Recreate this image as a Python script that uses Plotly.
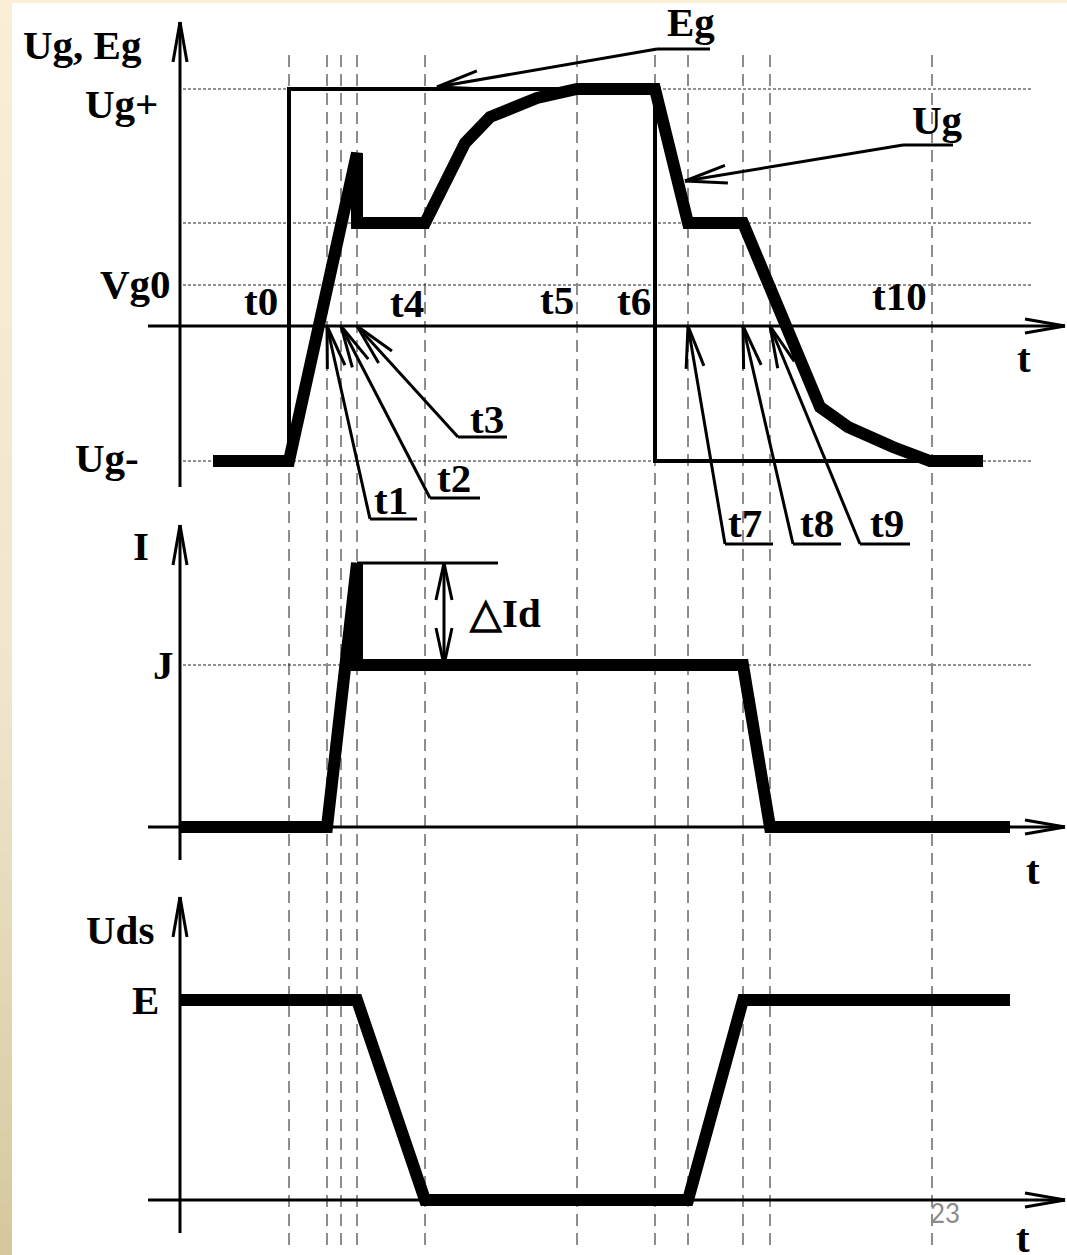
import math
import plotly.graph_objects as go

W, H = 1067, 1255

# ---------------- data (arbitrary units) ----------------
T_NAMES = ["t0", "t1", "t2", "t3", "t4", "t5", "t6", "t7", "t8", "t9", "t10"]
T_VALS = [109, 147, 161, 177, 245, 397, 475, 508, 563, 590, 752]
T = dict(zip(T_NAMES, T_VALS))

UG_PLUS = 23.7
UG_PLATEAU = 10.3
VG0 = 4.1
UG_MINUS = -13.5
J_LEVEL = 16.2
I_PEAK = 26.4
E_LEVEL = 20.0

# gate voltage Ug
ug_t = [33, 109, 177, 177, 245, 285, 310, 357, 397, 475, 508, 563, 640, 668, 713, 750, 803]
ug_v = [-13.5, -13.5, 17.3, 10.3, 10.3, 18.3, 20.9, 22.8, 23.7, 23.7, 10.3, 10.3,
        -8.1, -10.1, -12.1, -13.5, -13.5]
# driver emf Eg
eg_t = [33, 109, 109, 475, 475, 803]
eg_v = [-13.5, -13.5, 23.7, 23.7, -13.5, -13.5]
# drain current I
i_t = [0, 147, 177, 177, 563, 590, 830]
i_v = [0, 0, 26.4, 16.2, 16.2, 0, 0]
# drain-source voltage Uds
u_t = [0, 177, 245, 508, 563, 830]
u_v = [20, 20, 0, 0, 20, 20]

# ---------------- layout helpers ----------------
X0 = 180          # pixel column of t = 0
PPU = 10          # pixels per y unit
ZERO = {"y": 326, "y2": 827, "y3": 1200}   # pixel row of zero level per panel
X_END = 885
X_START = -32
FS = 41

shapes = []
annotations = []


def to_px(x, y, yr):
    return X0 + x, ZERO[yr] - y * PPU


def to_dat(px, py, yr):
    return px - X0, (ZERO[yr] - py) / PPU


def seg(x0, y0, x1, y1, yr, w=3, color="black", dash=None, layer="above"):
    ln = dict(color=color, width=w)
    if dash:
        ln["dash"] = dash
    shapes.append(dict(type="line", xref="x", yref=yr, x0=x0, y0=y0, x1=x1, y1=y1,
                       line=ln, layer=layer))


def barbs(tip, tail, yr, L=40, half=7, w=3):
    tx, ty = to_px(tip[0], tip[1], yr)
    sx, sy = to_px(tail[0], tail[1], yr)
    dx, dy = sx - tx, sy - ty
    n = math.hypot(dx, dy)
    ux, uy = dx / n, dy / n
    a = math.atan2(half, L)
    lr = math.hypot(L, half)
    for s in (1, -1):
        c, si = math.cos(s * a), math.sin(s * a)
        rx = ux * c - uy * si
        ry = ux * si + uy * c
        bx, by = tx + lr * rx, ty + lr * ry
        ex, ey = to_dat(bx, by, yr)
        seg(tip[0], tip[1], ex, ey, yr, w)


def arrow(tip, tail, yr, w=3, L=40, half=7):
    seg(tail[0], tail[1], tip[0], tip[1], yr, w)
    barbs(tip, tail, yr, L, half, w)


def ann(text, px, py, size=FS, color="black", family="Liberation Serif", weight="bold"):
    annotations.append(dict(text=text, x=px / W, y=1 - py / H, xref="paper", yref="paper",
                            xanchor="center", yanchor="middle", showarrow=False,
                            font=dict(family=family, size=size, color=color, weight=weight)))


def callout(label, tip, yr, ux0, ux1, uy, tx, ty):
    # underline + leader in pixel layout, tip in data coordinates
    a = to_dat(ux0, uy, yr)
    b = to_dat(ux1, uy, yr)
    seg(a[0], a[1], b[0], b[1], yr, 3)
    arrow(tip, a, yr, w=3, L=42, half=9)
    ann(label, tx, ty)


# ---------------- background ----------------
shapes.append(dict(type="rect", xref="paper", yref="paper", x0=0, x1=1, y0=1 - 3 / H, y1=1,
                   fillcolor="#FAEED6", line=dict(width=0), layer="below"))
stops = [(0, (250, 238, 214)), (700, (239, 229, 204)), (1100, (221, 208, 170)), (1255, (213, 198, 157))]
N = 50
for k in range(N):
    y0p, y1p = k * H / N, (k + 1) * H / N
    ym = (y0p + y1p) / 2
    for j in range(len(stops) - 1):
        if stops[j][0] <= ym <= stops[j + 1][0]:
            f = (ym - stops[j][0]) / (stops[j + 1][0] - stops[j][0])
            col = tuple(round(stops[j][1][c] + f * (stops[j + 1][1][c] - stops[j][1][c])) for c in range(3))
            break
    shapes.append(dict(type="rect", xref="paper", yref="paper", x0=0, x1=12 / W,
                       y0=1 - y1p / H - 0.0005, y1=1 - y0p / H,
                       fillcolor="rgb(%d,%d,%d)" % col, line=dict(width=0), layer="below"))

# vertical dashed time markers
for tv in T_VALS:
    shapes.append(dict(type="line", xref="x", yref="paper", x0=tv, x1=tv,
                       y0=1 - 1245 / H, y1=1 - 48 / H,
                       line=dict(color="#1a1a1a", width=1, dash="12px,7px"), layer="below"))

# dotted reference levels
for lv in [UG_PLUS, UG_PLATEAU, VG0, UG_MINUS]:
    seg(3, lv, 853, lv, "y", w=1, color="#222222", dash="3px,2px", layer="below")
seg(3, J_LEVEL, 853, J_LEVEL, "y2", w=1, color="#222222", dash="3px,2px", layer="below")

# axes: t axes with open arrow heads, vertical axes with arrows
for yr in ["y", "y2", "y3"]:
    arrow((X_END, 0), (X_START, 0), yr, w=3, L=40, half=7)
arrow((0, 30.4), (0, -16.1), "y", w=3, L=40, half=7)
arrow((0, 30.2), (0, -3.3), "y2", w=3, L=40, half=7)
arrow((0, 30.3), (0, -3.3), "y3", w=3, L=40, half=7)

# delta Id dimension
seg(T["t3"], I_PEAK, 318, I_PEAK, "y2", w=3)
arrow((264, I_PEAK), (264, J_LEVEL), "y2", w=3, L=37, half=8)
barbs((264, J_LEVEL), (264, I_PEAK), "y2", L=37, half=8, w=3)

# callouts
callout("t1", (T["t1"], 0), "y", 370, 417, 519, 391, 500)
callout("t2", (T["t2"], 0), "y", 430, 480, 498, 454, 478)
callout("t3", (T["t3"], 0), "y", 458, 507, 437, 487, 419)
callout("t7", (T["t7"], 0), "y", 725, 773, 544, 745, 523)
callout("t8", (T["t8"], 0), "y", 793, 841, 544, 817, 523)
callout("t9", (T["t9"], 0), "y", 860, 910, 544, 887, 523)
callout("Eg", (257, UG_PLUS + 0.2), "y", 657, 710, 49, 691, 22)
callout("Ug", (505, 14.5), "y", 903, 953, 145, 937, 120)

# text labels
ann("Ug, Eg", 82, 45)
ann("Ug+", 121, 104)
ann("Vg0", 135, 284)
ann("Ug-", 107, 458)
ann("t0", 261, 301)
ann("t4", 407, 303)
ann("t5", 557, 300)
ann("t6", 634, 301)
ann("t10", 899, 296)
ann("t", 1024, 358)
ann("t", 1033, 870)
ann("t", 1023, 1238)
ann("I", 141, 546)
ann("J", 163, 665)
ann("Uds", 120, 930)
ann("E", 145, 1000)
ann("△Id", 505, 613)
ann("23", 945, 1213, size=26, color="#8a8a8a", family="Lato", weight="normal")

# ---------------- traces ----------------
fig = go.Figure()
fig.add_trace(go.Scatter(x=eg_t, y=eg_v, mode="lines", line=dict(color="black", width=4),
                         xaxis="x", yaxis="y", hoverinfo="skip", name="Eg"))
fig.add_trace(go.Scatter(x=ug_t, y=ug_v, mode="lines", line=dict(color="black", width=12),
                         xaxis="x", yaxis="y", hoverinfo="skip", name="Ug"))
fig.add_trace(go.Scatter(x=i_t, y=i_v, mode="lines", line=dict(color="black", width=12),
                         xaxis="x", yaxis="y2", hoverinfo="skip", name="I"))
fig.add_trace(go.Scatter(x=u_t, y=u_v, mode="lines", line=dict(color="black", width=12),
                         xaxis="x", yaxis="y3", hoverinfo="skip", name="Uds"))

hidden = dict(visible=False, showgrid=False, zeroline=False, fixedrange=True)
fig.update_layout(
    width=W, height=H,
    margin=dict(l=0, r=0, t=0, b=0),
    paper_bgcolor="white", plot_bgcolor="rgba(0,0,0,0)",
    showlegend=False,
    xaxis=dict(range=[-X0, W - X0], domain=[0, 1], anchor="y3", **hidden),
    yaxis=dict(range=[(ZERO["y"] - 560) / PPU, ZERO["y"] / PPU], domain=[1 - 560 / H, 1],
               anchor="x", **hidden),
    yaxis2=dict(range=[(ZERO["y2"] - 875) / PPU, (ZERO["y2"] - 495) / PPU],
                domain=[1 - 875 / H, 1 - 495 / H], anchor="x", **hidden),
    yaxis3=dict(range=[(ZERO["y3"] - 1255) / PPU, (ZERO["y3"] - 875) / PPU],
                domain=[0, 1 - 875 / H], anchor="x", **hidden),
    shapes=shapes,
    annotations=annotations,
)

fig.write_html("out.html", config={"displayModeBar": False},
               post_script="document.body.style.margin='0px';document.body.style.overflow='hidden';")
